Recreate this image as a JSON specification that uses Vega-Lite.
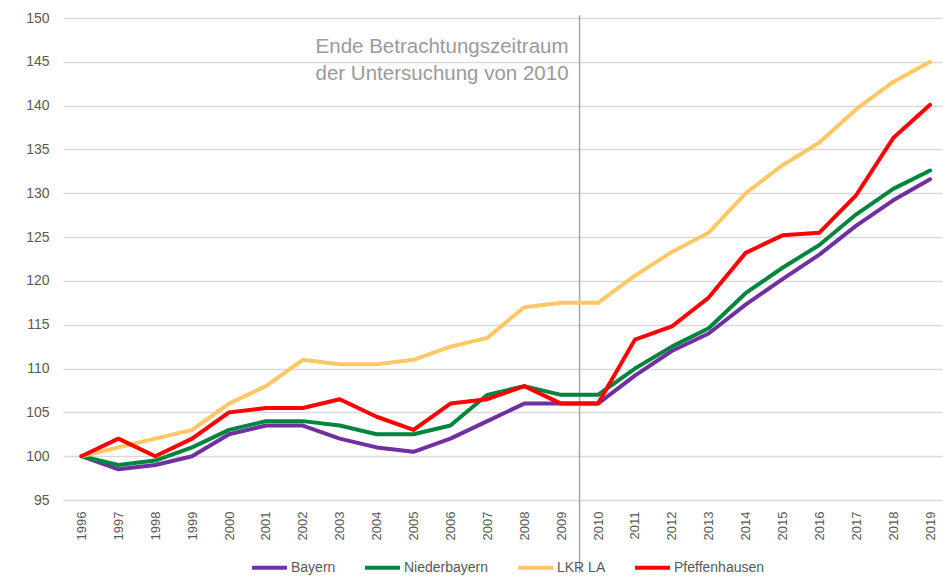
{
  "$schema": "https://vega.github.io/schema/vega-lite/v6.json",
  "width": 880,
  "height": 482,
  "autosize": {"type": "none"},
  "padding": {"left": 63, "top": 18, "right": 0, "bottom": 78},
  "config": {"view": {"stroke": null}, "font": "Liberation Sans", "axis": {"labelOverlap": false, "labelFlush": false}},
  "datasets": {
    "series": [
      {"year": 1996, "region": "Bayern", "value": 100},
      {"year": 1997, "region": "Bayern", "value": 98.5},
      {"year": 1998, "region": "Bayern", "value": 99},
      {"year": 1999, "region": "Bayern", "value": 100},
      {"year": 2000, "region": "Bayern", "value": 102.5},
      {"year": 2001, "region": "Bayern", "value": 103.5},
      {"year": 2002, "region": "Bayern", "value": 103.5},
      {"year": 2003, "region": "Bayern", "value": 102},
      {"year": 2004, "region": "Bayern", "value": 101},
      {"year": 2005, "region": "Bayern", "value": 100.5},
      {"year": 2006, "region": "Bayern", "value": 102},
      {"year": 2007, "region": "Bayern", "value": 104},
      {"year": 2008, "region": "Bayern", "value": 106},
      {"year": 2009, "region": "Bayern", "value": 106},
      {"year": 2010, "region": "Bayern", "value": 106},
      {"year": 2011, "region": "Bayern", "value": 109.2},
      {"year": 2012, "region": "Bayern", "value": 112},
      {"year": 2013, "region": "Bayern", "value": 114},
      {"year": 2014, "region": "Bayern", "value": 117.3},
      {"year": 2015, "region": "Bayern", "value": 120.2},
      {"year": 2016, "region": "Bayern", "value": 123},
      {"year": 2017, "region": "Bayern", "value": 126.3},
      {"year": 2018, "region": "Bayern", "value": 129.2},
      {"year": 2019, "region": "Bayern", "value": 131.6},
      {"year": 1996, "region": "Niederbayern", "value": 100},
      {"year": 1997, "region": "Niederbayern", "value": 99},
      {"year": 1998, "region": "Niederbayern", "value": 99.5},
      {"year": 1999, "region": "Niederbayern", "value": 101},
      {"year": 2000, "region": "Niederbayern", "value": 103},
      {"year": 2001, "region": "Niederbayern", "value": 104},
      {"year": 2002, "region": "Niederbayern", "value": 104},
      {"year": 2003, "region": "Niederbayern", "value": 103.5},
      {"year": 2004, "region": "Niederbayern", "value": 102.5},
      {"year": 2005, "region": "Niederbayern", "value": 102.5},
      {"year": 2006, "region": "Niederbayern", "value": 103.5},
      {"year": 2007, "region": "Niederbayern", "value": 107},
      {"year": 2008, "region": "Niederbayern", "value": 108},
      {"year": 2009, "region": "Niederbayern", "value": 107},
      {"year": 2010, "region": "Niederbayern", "value": 107},
      {"year": 2011, "region": "Niederbayern", "value": 110},
      {"year": 2012, "region": "Niederbayern", "value": 112.5},
      {"year": 2013, "region": "Niederbayern", "value": 114.6},
      {"year": 2014, "region": "Niederbayern", "value": 118.6},
      {"year": 2015, "region": "Niederbayern", "value": 121.5},
      {"year": 2016, "region": "Niederbayern", "value": 124.1},
      {"year": 2017, "region": "Niederbayern", "value": 127.6},
      {"year": 2018, "region": "Niederbayern", "value": 130.5},
      {"year": 2019, "region": "Niederbayern", "value": 132.6},
      {"year": 1996, "region": "LKR LA", "value": 100},
      {"year": 1997, "region": "LKR LA", "value": 101},
      {"year": 1998, "region": "LKR LA", "value": 102},
      {"year": 1999, "region": "LKR LA", "value": 103},
      {"year": 2000, "region": "LKR LA", "value": 106},
      {"year": 2001, "region": "LKR LA", "value": 108},
      {"year": 2002, "region": "LKR LA", "value": 111},
      {"year": 2003, "region": "LKR LA", "value": 110.5},
      {"year": 2004, "region": "LKR LA", "value": 110.5},
      {"year": 2005, "region": "LKR LA", "value": 111},
      {"year": 2006, "region": "LKR LA", "value": 112.5},
      {"year": 2007, "region": "LKR LA", "value": 113.5},
      {"year": 2008, "region": "LKR LA", "value": 117},
      {"year": 2009, "region": "LKR LA", "value": 117.5},
      {"year": 2010, "region": "LKR LA", "value": 117.5},
      {"year": 2011, "region": "LKR LA", "value": 120.6},
      {"year": 2012, "region": "LKR LA", "value": 123.3},
      {"year": 2013, "region": "LKR LA", "value": 125.5},
      {"year": 2014, "region": "LKR LA", "value": 130},
      {"year": 2015, "region": "LKR LA", "value": 133.2},
      {"year": 2016, "region": "LKR LA", "value": 135.8},
      {"year": 2017, "region": "LKR LA", "value": 139.6},
      {"year": 2018, "region": "LKR LA", "value": 142.7},
      {"year": 2019, "region": "LKR LA", "value": 145},
      {"year": 1996, "region": "Pfeffenhausen", "value": 100},
      {"year": 1997, "region": "Pfeffenhausen", "value": 102},
      {"year": 1998, "region": "Pfeffenhausen", "value": 100},
      {"year": 1999, "region": "Pfeffenhausen", "value": 102},
      {"year": 2000, "region": "Pfeffenhausen", "value": 105},
      {"year": 2001, "region": "Pfeffenhausen", "value": 105.5},
      {"year": 2002, "region": "Pfeffenhausen", "value": 105.5},
      {"year": 2003, "region": "Pfeffenhausen", "value": 106.5},
      {"year": 2004, "region": "Pfeffenhausen", "value": 104.5},
      {"year": 2005, "region": "Pfeffenhausen", "value": 103},
      {"year": 2006, "region": "Pfeffenhausen", "value": 106},
      {"year": 2007, "region": "Pfeffenhausen", "value": 106.5},
      {"year": 2008, "region": "Pfeffenhausen", "value": 108},
      {"year": 2009, "region": "Pfeffenhausen", "value": 106},
      {"year": 2010, "region": "Pfeffenhausen", "value": 106},
      {"year": 2011, "region": "Pfeffenhausen", "value": 113.3},
      {"year": 2012, "region": "Pfeffenhausen", "value": 114.8},
      {"year": 2013, "region": "Pfeffenhausen", "value": 118.1},
      {"year": 2014, "region": "Pfeffenhausen", "value": 123.2},
      {"year": 2015, "region": "Pfeffenhausen", "value": 125.2},
      {"year": 2016, "region": "Pfeffenhausen", "value": 125.5},
      {"year": 2017, "region": "Pfeffenhausen", "value": 129.8},
      {"year": 2018, "region": "Pfeffenhausen", "value": 136.3},
      {"year": 2019, "region": "Pfeffenhausen", "value": 140.1}
    ],
    "marker": [{"year": 2009.5, "value": 150.3, "bottom": 86.7}],
    "note": [{"year": 2009.5, "value": 145.95, "label": ["Ende Betrachtungszeitraum", "der Untersuchung von 2010"]}]
  },
  "encoding": {
    "x": {
      "field": "year",
      "type": "quantitative",
      "title": null,
      "scale": {"domain": [1995.5, 2019.35], "nice": false, "zero": false},
      "axis": {
        "values": [1996, 1997, 1998, 1999, 2000, 2001, 2002, 2003, 2004, 2005, 2006, 2007, 2008, 2009, 2010, 2011, 2012, 2013, 2014, 2015, 2016, 2017, 2018, 2019],
        "tickCount": 24,
        "format": "d",
        "labelAngle": -90,
        "labelFontSize": 13,
        "labelColor": "#595959",
        "labelPadding": 11,
        "labelFlush": false,
        "labelOverlap": false,
        "labelBound": false,
        "ticks": false,
        "domain": false,
        "grid": false
      }
    },
    "y": {
      "field": "value",
      "type": "quantitative",
      "title": null,
      "scale": {"domain": [95, 150], "nice": false, "zero": false},
      "axis": {
        "values": [95, 100, 105, 110, 115, 120, 125, 130, 135, 140, 145, 150],
        "tickCount": 12,
        "labelFontSize": 14,
        "labelColor": "#595959",
        "labelPadding": 14,
        "labelOverlap": false,
        "ticks": false,
        "domain": false,
        "grid": true,
        "gridColor": "#d9d9d9",
        "gridWidth": 1.5
      }
    }
  },
  "layer": [
    {
      "data": {"name": "marker"},
      "mark": {"type": "rule", "color": "#a6a6a6", "strokeWidth": 1.5, "clip": false},
      "encoding": {
        "y2": {"field": "bottom"}
      }
    },
    {
      "data": {"name": "note"},
      "mark": {"type": "text", "align": "right", "baseline": "alphabetic", "dx": -11, "fontSize": 20.5, "lineHeight": 27, "color": "#9a9a9a", "font": "Liberation Sans"},
      "encoding": {
        "text": {"field": "label"}
      }
    },
    {
      "data": {"name": "series"},
      "mark": {"type": "line", "strokeWidth": 4, "strokeJoin": "round", "strokeCap": "round"},
      "encoding": {
        "color": {
          "field": "region",
          "type": "nominal",
          "sort": ["Bayern", "Niederbayern", "LKR LA", "Pfeffenhausen"],
          "scale": {
            "domain": ["Bayern", "Niederbayern", "LKR LA", "Pfeffenhausen"],
            "range": ["#7030A0", "#00853E", "#FFC766", "#FF0000"]
          },
          "legend": {
            "orient": "none",
            "legendX": 187,
            "legendY": 530,
            "direction": "horizontal",
            "title": null,
            "symbolType": "stroke",
            "symbolSize": 1225,
            "symbolStrokeWidth": 4,
            "labelFontSize": 14,
            "labelColor": "#595959",
            "labelOffset": 2,
            "columnPadding": 21
          }
        }
      }
    }
  ]
}
